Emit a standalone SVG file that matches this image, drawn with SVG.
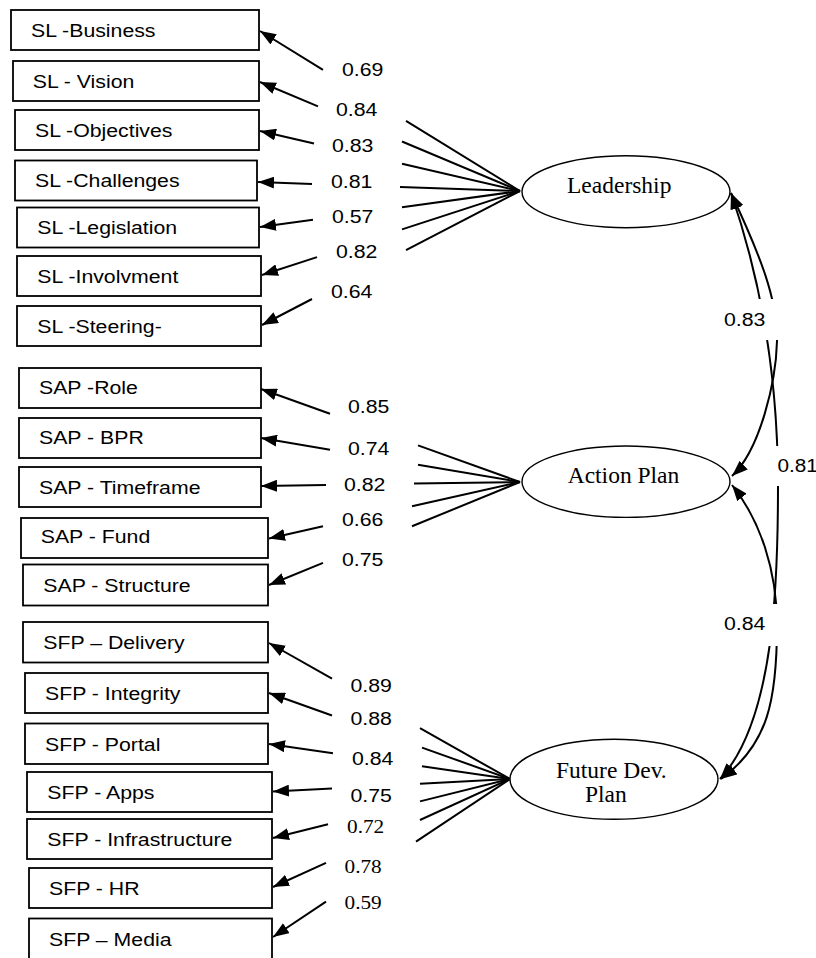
<svg xmlns="http://www.w3.org/2000/svg" width="816" height="958" viewBox="0 0 816 958">
  <defs>
    <marker id="ah" markerUnits="userSpaceOnUse" markerWidth="17" markerHeight="12" refX="16" refY="6" orient="auto-start-reverse">
      <path d="M0,0 L16,6 L0,12 z" fill="#000"/>
    </marker>
    <style>
      .box { fill: #fff; stroke: #000; stroke-width: 1.8; }
      .lat { fill: #fff; stroke: #000; stroke-width: 1.4; }
      .t { font-family: "Liberation Sans", Arial, sans-serif; font-size: 18.5px; fill: #000; }
      .sn { font-family: "Liberation Serif", "Times New Roman", serif; font-size: 18.5px; fill: #000; }
      .s { font-family: "Liberation Serif", "Times New Roman", serif; font-size: 23.5px; fill: #000; }
      .ln { stroke: #000; stroke-width: 2; fill: none; }
      .ar { marker-end: url(#ah); }
      .cv { stroke: #000; stroke-width: 2; fill: none; marker-start: url(#ah); marker-end: url(#ah); }
      .bg { fill: #fff; stroke: none; }
    </style>
  </defs>
  <rect width="816" height="958" fill="#fff"/>

  <!-- connectors: loadings (split around the coefficient labels) and latent correlations -->
  <g id="connectors">
    <!-- Leadership loadings -->
    <path class="ln ar" d="M323,69.8 L260,31"/>
    <path class="ln" d="M406,120.8 L520,191"/>
    <path class="ln ar" d="M318,106.3 L260,82"/>
    <path class="ln" d="M402,141.5 L520,191"/>
    <path class="ln ar" d="M314,143.5 L260,131"/>
    <path class="ln" d="M402,163.8 L520,191"/>
    <path class="ln ar" d="M312,183.9 L258,182"/>
    <path class="ln" d="M400,186.9 L520,191"/>
    <path class="ln ar" d="M313,219.7 L260,227"/>
    <path class="ln" d="M402,207.3 L520,191"/>
    <path class="ln ar" d="M317,257.1 L262,275"/>
    <path class="ln" d="M402,229.4 L520,191"/>
    <path class="ln ar" d="M312,299 L262,325"/>
    <path class="ln" d="M406,250.2 L520,191"/>

    <!-- Action Plan loadings -->
    <path class="ln ar" d="M330,413.8 L261,389"/>
    <path class="ln" d="M418,445.4 L520,482"/>
    <path class="ln ar" d="M330,449.7 L261,438"/>
    <path class="ln" d="M418,464.7 L520,482"/>
    <path class="ln ar" d="M326,485 L261,486"/>
    <path class="ln" d="M414,483.6 L520,482"/>
    <path class="ln ar" d="M323,526.3 L269,538.5"/>
    <path class="ln" d="M412,506.3 L520,482"/>
    <path class="ln ar" d="M323,562.8 L269,585"/>
    <path class="ln" d="M412,526.3 L520,482"/>

    <!-- Future Dev. Plan loadings -->
    <path class="ln ar" d="M332,678.6 L269,643"/>
    <path class="ln" d="M420,728.2 L510,779"/>
    <path class="ln ar" d="M332,715.5 L269,693"/>
    <path class="ln" d="M422,747.6 L510,779"/>
    <path class="ln ar" d="M333,753.3 L269,744"/>
    <path class="ln" d="M422,766.2 L510,779"/>
    <path class="ln ar" d="M332,788.4 L273,791.5"/>
    <path class="ln" d="M420,783.8 L510,779"/>
    <path class="ln ar" d="M328,824.3 L273,838"/>
    <path class="ln" d="M420,801.4 L510,779"/>
    <path class="ln ar" d="M326,862.8 L273,887"/>
    <path class="ln" d="M420,820 L510,779"/>
    <path class="ln ar" d="M326,901.7 L273,937"/>
    <path class="ln" d="M416,841.7 L510,779"/>

    <!-- latent correlations -->
    <path class="cv" d="M731,193 C760,255 778,300 777,341 S760,450 732,476"/>
    <path class="cv" d="M731,193 C768,300 778,400 778,486 C778,580 775,720 720,779"/>
    <path class="cv" d="M732,485 C760,520 777,570 777,625 C777,700 768,745 721,779"/>
  </g>

  <!-- coefficient labels -->
  <g id="labels">
    <rect class="bg" x="720" y="299" width="64" height="41"/>
    <rect class="bg" x="771" y="446" width="45" height="40"/>
    <rect class="bg" x="720" y="604" width="64" height="42"/>
    <text class="t" transform="translate(724,325.7) scale(1.15,1)">0.83</text>
    <text class="t" transform="translate(777.5,472) scale(1.12,1)">0.81</text>
    <text class="t" transform="translate(724,630) scale(1.15,1)">0.84</text>

    <text class="t" transform="translate(342,76) scale(1.15,1)">0.69</text>
    <text class="t" transform="translate(336,116) scale(1.15,1)">0.84</text>
    <text class="t" transform="translate(332,151.7) scale(1.15,1)">0.83</text>
    <text class="t" transform="translate(331,188.3) scale(1.15,1)">0.81</text>
    <text class="t" transform="translate(332,222.7) scale(1.15,1)">0.57</text>
    <text class="t" transform="translate(336,258.3) scale(1.15,1)">0.82</text>
    <text class="t" transform="translate(331,297.7) scale(1.15,1)">0.64</text>

    <text class="t" transform="translate(348,413.3) scale(1.15,1)">0.85</text>
    <text class="t" transform="translate(348,455) scale(1.15,1)">0.74</text>
    <text class="t" transform="translate(344,490.7) scale(1.15,1)">0.82</text>
    <text class="t" transform="translate(342,525.7) scale(1.15,1)">0.66</text>
    <text class="t" transform="translate(342,565.7) scale(1.15,1)">0.75</text>

    <text class="t" transform="translate(350.5,691.7) scale(1.15,1)">0.89</text>
    <text class="t" transform="translate(350.5,725) scale(1.15,1)">0.88</text>
    <text class="t" transform="translate(352,765) scale(1.15,1)">0.84</text>
    <text class="t" transform="translate(350.5,801.7) scale(1.15,1)">0.75</text>
    <text class="sn" transform="translate(347,833.3) scale(1.15,1)">0.72</text>
    <text class="sn" transform="translate(344.5,872.7) scale(1.15,1)">0.78</text>
    <text class="sn" transform="translate(344.5,909.3) scale(1.15,1)">0.59</text>
  </g>

  <!-- latent constructs -->
  <g id="leadership">
    <ellipse class="lat" cx="626" cy="191.7" rx="104" ry="36"/>
    <text class="s" x="619.2" y="193.3" text-anchor="middle">Leadership</text>
  </g>
  <g id="action-plan">
    <ellipse class="lat" cx="626" cy="481.7" rx="104" ry="35.7"/>
    <text class="s" x="623.5" y="482.7" text-anchor="middle">Action Plan</text>
  </g>
  <g id="future-dev-plan">
    <ellipse class="lat" cx="614" cy="779.3" rx="104" ry="40"/>
    <text class="s" x="556" y="777.7" font-size="23">Future Dev.</text>
    <text class="s" x="585" y="801.5" font-size="23">Plan</text>
  </g>

  <!-- Leadership indicators -->
  <g id="sl-business">
    <rect class="box" x="11" y="10" width="248" height="40"/>
    <text class="t" transform="translate(31,36.7) scale(1.15,1)">SL -Business</text>
  </g>
  <g id="sl-vision">
    <rect class="box" x="13" y="61" width="246" height="40"/>
    <text class="t" transform="translate(32.7,87.7) scale(1.15,1)">SL - Vision</text>
  </g>
  <g id="sl-objectives">
    <rect class="box" x="15" y="110" width="244" height="40"/>
    <text class="t" transform="translate(35,136.7) scale(1.15,1)">SL -Objectives</text>
  </g>
  <g id="sl-challenges">
    <rect class="box" x="15" y="160.5" width="242" height="40"/>
    <text class="t" transform="translate(35,186.7) scale(1.15,1)">SL -Challenges</text>
  </g>
  <g id="sl-legislation">
    <rect class="box" x="17" y="207.5" width="242" height="40"/>
    <text class="t" transform="translate(37.3,234) scale(1.15,1)">SL -Legislation</text>
  </g>
  <g id="sl-involvment">
    <rect class="box" x="17" y="256" width="244" height="40"/>
    <text class="t" transform="translate(37.3,282.7) scale(1.15,1)">SL -Involvment</text>
  </g>
  <g id="sl-steering">
    <rect class="box" x="17" y="306" width="244" height="40"/>
    <text class="t" transform="translate(37.3,333.3) scale(1.15,1)">SL -Steering-</text>
  </g>

  <!-- Action Plan indicators -->
  <g id="sap-role">
    <rect class="box" x="19" y="368" width="242" height="40"/>
    <text class="t" transform="translate(39,394.3) scale(1.15,1)">SAP -Role</text>
  </g>
  <g id="sap-bpr">
    <rect class="box" x="19" y="418" width="242" height="40"/>
    <text class="t" transform="translate(39,444.3) scale(1.15,1)">SAP - BPR</text>
  </g>
  <g id="sap-timeframe">
    <rect class="box" x="19" y="467" width="242" height="40"/>
    <text class="t" transform="translate(39,494) scale(1.15,1)">SAP - Timeframe</text>
  </g>
  <g id="sap-fund">
    <rect class="box" x="21" y="518" width="247" height="40"/>
    <text class="t" transform="translate(40.7,543.3) scale(1.15,1)">SAP - Fund</text>
  </g>
  <g id="sap-structure">
    <rect class="box" x="23" y="564.5" width="245" height="41"/>
    <text class="t" transform="translate(43.3,591.7) scale(1.15,1)">SAP - Structure</text>
  </g>

  <!-- Future Dev. Plan indicators -->
  <g id="sfp-delivery">
    <rect class="box" x="23" y="622" width="245" height="40.5"/>
    <text class="t" transform="translate(43.3,649) scale(1.15,1)">SFP – Delivery</text>
  </g>
  <g id="sfp-integrity">
    <rect class="box" x="25" y="673" width="243" height="40"/>
    <text class="t" transform="translate(45,700) scale(1.15,1)">SFP - Integrity</text>
  </g>
  <g id="sfp-portal">
    <rect class="box" x="25" y="723.5" width="243" height="40.5"/>
    <text class="t" transform="translate(45,750.7) scale(1.15,1)">SFP - Portal</text>
  </g>
  <g id="sfp-apps">
    <rect class="box" x="27" y="772" width="245" height="40"/>
    <text class="t" transform="translate(47.3,799) scale(1.15,1)">SFP - Apps</text>
  </g>
  <g id="sfp-infrastructure">
    <rect class="box" x="27" y="819" width="245" height="40"/>
    <text class="t" transform="translate(47.3,845.7) scale(1.15,1)">SFP - Infrastructure</text>
  </g>
  <g id="sfp-hr">
    <rect class="box" x="29" y="868" width="243" height="40"/>
    <text class="t" transform="translate(49,895) scale(1.15,1)">SFP - HR</text>
  </g>
  <g id="sfp-media">
    <rect class="box" x="29" y="918.5" width="243" height="42"/>
    <text class="t" transform="translate(49,945.7) scale(1.15,1)">SFP – Media</text>
  </g>
</svg>
